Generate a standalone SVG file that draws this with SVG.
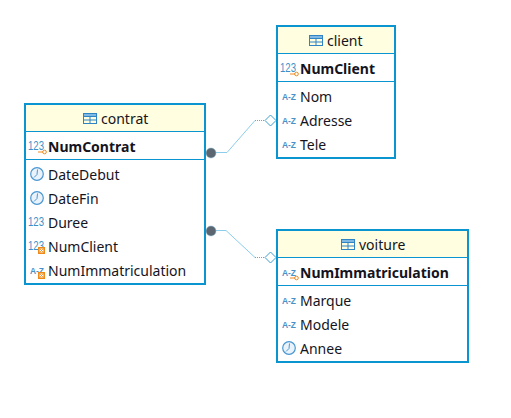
<svg xmlns="http://www.w3.org/2000/svg" width="511" height="418" viewBox="0 0 511 418">
<style>
.box{fill:#fff;stroke:#0a94d0;stroke-width:2}
.hd{fill:#fffee0}
.sep{stroke:#0a94d0;stroke-width:1;fill:none}
text{font-family:"Noto Sans","Open Sans","Liberation Sans",sans-serif;font-size:14px;fill:#14141e}
.b{font-weight:700}
text.i123{font-family:"Liberation Sans",sans-serif;font-size:12px;fill:#3d8fc9}
text.iaz{font-family:"Liberation Sans",sans-serif;font-size:9.500px;font-weight:700;fill:#4a90c8}
.tb{fill:none;stroke:#2f84c4;stroke-width:1}
.tbh{fill:#7fb8e2}
.clk{fill:#eaf3fa;stroke:#4a97d2;stroke-width:1.2}
.hand{fill:none;stroke:#4a97d2;stroke-width:1}
.key{fill:none;stroke:#ee8a1a;stroke-width:1}
.fk{fill:#fff;stroke:#ee8a1a;stroke-width:1.6}
.conn{fill:none;stroke:#8ccdec;stroke-width:1}
.dotted{stroke:#4fb0de;stroke-dasharray:1 1}
.dot{fill:#5c6670;stroke:#7fb8d8;stroke-width:.5}
.dia{fill:#fff;stroke:#3f9fd0;stroke-width:1}
</style>
<defs>
<g id="table"><rect class="tb" x="0.5" y="0.5" width="13" height="10"/><rect class="tbh" x="1" y="1" width="12" height="2.500"/><path class="tb" d="M0.5 3.500H13.500M0.5 7H13.500M7 3.500V10.500"/></g>
<g id="clock"><circle class="clk" cx="7" cy="7" r="6.300"/><path class="hand" d="M7.500 2.500L7 7.500L4 10.500"/></g>
<g id="keyb"><path class="key" d="M0 3H5"/><circle class="key" cx="6.500" cy="3" r="1.800"/></g>
<g id="fkb"><rect class="fk" x="0.8" y="0.8" width="5.400" height="5.400"/><path d="M2 2L5 5M5 2L2 5" stroke="#ee8a1a" stroke-width=".8"/></g>
</defs>
<g id="connectors">
<path class="conn" d="M211 152.500H227L255 120.500"/>
<path class="conn dotted" d="M255 120.500H265"/>
<path class="conn" d="M211 230.500H226L255 257.500"/>
<path class="conn dotted" d="M255 257.500H265"/>
<circle class="dot" cx="211" cy="153" r="5"/>
<circle class="dot" cx="211" cy="231" r="5"/>
<path class="dia" d="M265 120.500L270.500 115L276 120.500L270.500 126Z"/>
<path class="dia" d="M265 257.500L270.500 252L276 257.500L270.500 263Z"/>
</g>
<g id="contrat">
<rect class="box" x="25" y="104" width="180" height="180"/>
<rect class="hd" x="26" y="105" width="178" height="26"/>
<path class="sep" d="M26 131.500H204M26 159.500H204"/>
<use href="#table" x="83" y="113"/>
<text x="101" y="124">contrat</text>
<text class="i123" x="28" y="150" textLength="16" lengthAdjust="spacingAndGlyphs">123</text><use href="#keyb" x="38" y="149"/>
<text class="b" x="48" y="152">NumContrat</text>
<use href="#clock" x="30" y="167"/><text x="48" y="180">DateDebut</text>
<use href="#clock" x="30" y="191"/><text x="48" y="204">DateFin</text>
<text class="i123" x="28" y="226" textLength="16" lengthAdjust="spacingAndGlyphs">123</text><text x="48" y="228">Duree</text>
<text class="i123" x="28" y="250" textLength="16" lengthAdjust="spacingAndGlyphs">123</text><use href="#fkb" x="38" y="247"/><text x="48" y="252">NumClient</text>
<text class="iaz" x="30" y="274" textLength="14" lengthAdjust="spacingAndGlyphs">A-Z</text><use href="#fkb" x="38" y="272"/><text x="48" y="276">NumImmatriculation</text>
</g>
<g id="client">
<rect class="box" x="277" y="26" width="118" height="132"/>
<rect class="hd" x="278" y="27" width="116" height="26"/>
<path class="sep" d="M278 53.500H394M278 81.500H394"/>
<use href="#table" x="309" y="35"/>
<text x="327" y="46">client</text>
<text class="i123" x="280" y="72" textLength="16" lengthAdjust="spacingAndGlyphs">123</text><use href="#keyb" x="290" y="71"/>
<text class="b" x="300" y="74">NumClient</text>
<text class="iaz" x="282" y="100" textLength="14" lengthAdjust="spacingAndGlyphs">A-Z</text><text x="300" y="102">Nom</text>
<text class="iaz" x="282" y="124" textLength="14" lengthAdjust="spacingAndGlyphs">A-Z</text><text x="300" y="126">Adresse</text>
<text class="iaz" x="282" y="148" textLength="14" lengthAdjust="spacingAndGlyphs">A-Z</text><text x="300" y="150">Tele</text>
</g>
<g id="voiture">
<rect class="box" x="277" y="230" width="191" height="132"/>
<rect class="hd" x="278" y="231" width="189" height="26"/>
<path class="sep" d="M278 257.500H467M278 285.500H467"/>
<use href="#table" x="341" y="239"/>
<text x="359" y="250">voiture</text>
<text class="iaz" x="282" y="276" textLength="14" lengthAdjust="spacingAndGlyphs">A-Z</text><use href="#keyb" x="290" y="275"/>
<text class="b" x="300" y="278">NumImmatriculation</text>
<text class="iaz" x="282" y="304" textLength="14" lengthAdjust="spacingAndGlyphs">A-Z</text><text x="300" y="306">Marque</text>
<text class="iaz" x="282" y="328" textLength="14" lengthAdjust="spacingAndGlyphs">A-Z</text><text x="300" y="330">Modele</text>
<use href="#clock" x="282" y="341"/><text x="300" y="354">Annee</text>
</g>
</svg>
